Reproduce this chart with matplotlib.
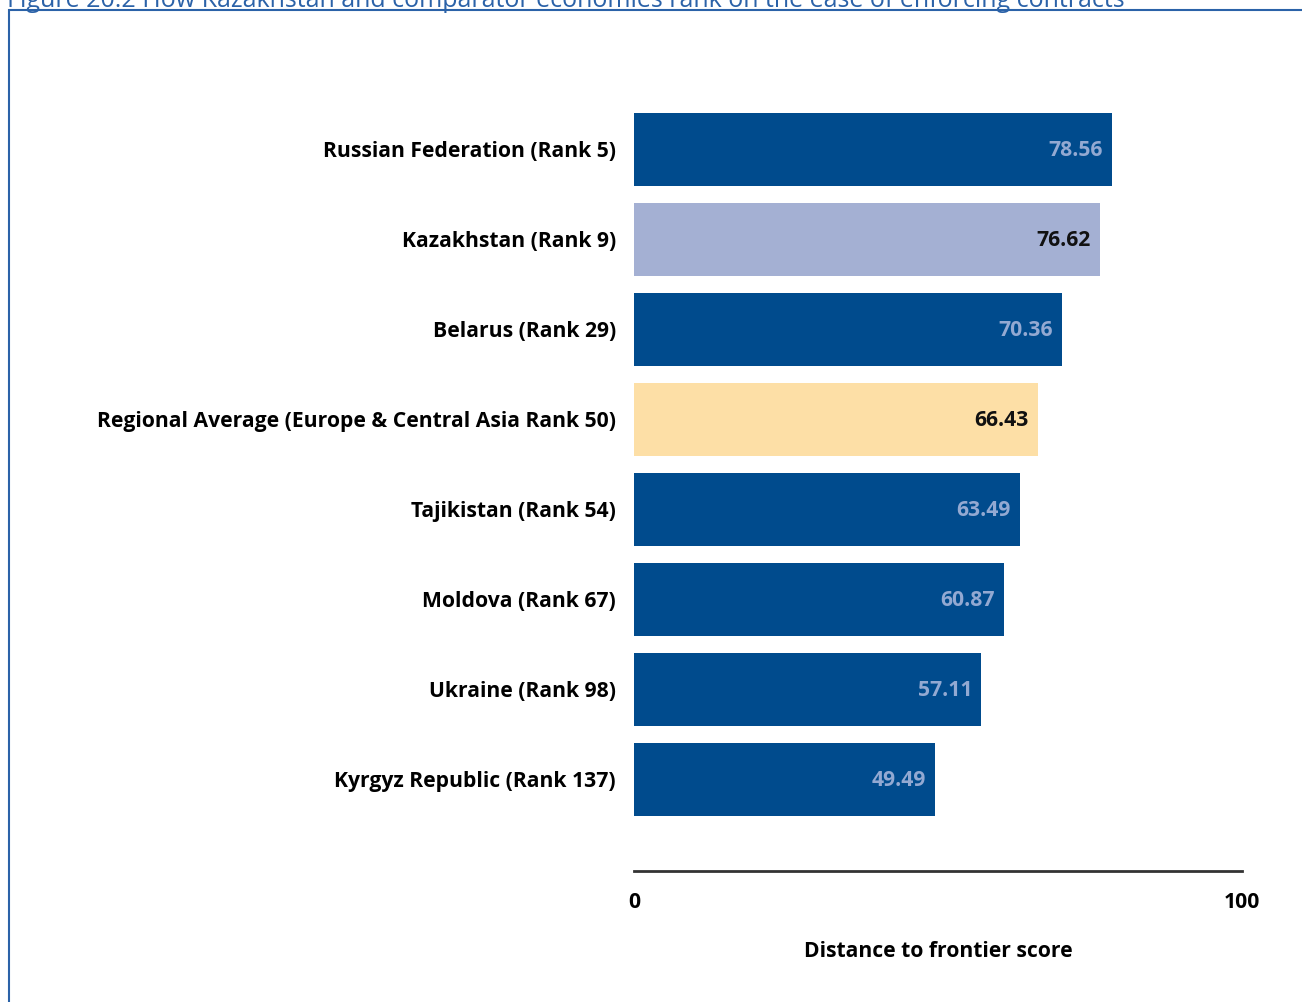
import matplotlib
matplotlib.use("Agg")
import matplotlib.pyplot as plt
from matplotlib.patches import Rectangle

categories = ["Russian Federation (Rank 5)", "Kazakhstan (Rank 9)", "Belarus (Rank 29)",
              "Regional Average (Europe & Central Asia Rank 50)", "Tajikistan (Rank 54)",
              "Moldova (Rank 67)", "Ukraine (Rank 98)", "Kyrgyz Republic (Rank 137)"]
values = [78.56, 76.62, 70.36, 66.43, 63.49, 60.87, 57.11, 49.49]
bar_colors = ["#004B8D", "#A4B0D3", "#004B8D", "#FDDFA6", "#004B8D", "#004B8D", "#004B8D", "#004B8D"]
value_colors = ["#93A9D2", "#111111", "#93A9D2", "#111111", "#93A9D2", "#93A9D2", "#93A9D2", "#93A9D2"]

plt.rcParams['font.family'] = ['Open Sans', 'DejaVu Sans']

W, H = 1302, 1002
fig = plt.figure(figsize=(W/100, H/100), dpi=100)

# frame and (cut-off) title
fig.add_artist(Rectangle((9/W, -0.1), 1.2, 1 - 10/H + 0.1, transform=fig.transFigure,
                         fill=False, edgecolor="#2B62A8", linewidth=1.5))
fig.text(7/W, 1 + 12/H, "Figure 20.2 How Kazakhstan and comparator economies rank on the ease of enforcing contracts",
         color="#2B62A8", fontsize=18, ha="left", va="top")

FS = 15.2
ax = fig.add_axes([634/W, 1 - 871/H, (1242-634)/W, (871-60)/H])
y = list(range(len(categories)))
ax.barh(y, values, height=0.81, color=bar_colors)
for yi, v, c in zip(y, values, value_colors):
    ax.text(v - 1.5, yi + 0.02, f"{v:.2f}", ha="right", va="center", color=c,
            fontsize=FS, fontweight="bold")

ax.set_xlim(0, 100)
ax.set_ylim(8.02, -0.99)
ax.set_yticks(y)
ax.set_yticklabels(categories, fontsize=FS, fontweight="bold")
ax.set_xticks([0, 100])
ax.set_xticklabels(["0", "100"], fontsize=FS, fontweight="bold")
ax.tick_params(axis="y", length=0, pad=13)
ax.tick_params(axis="x", length=0, pad=15)
for s in ["top", "right", "left"]:
    ax.spines[s].set_visible(False)
ax.spines["bottom"].set_color("#333333")
ax.spines["bottom"].set_linewidth(2)
ax.set_xlabel("Distance to frontier score", fontsize=FS, fontweight="bold", labelpad=20)

fig.savefig("out.png", dpi=100)
